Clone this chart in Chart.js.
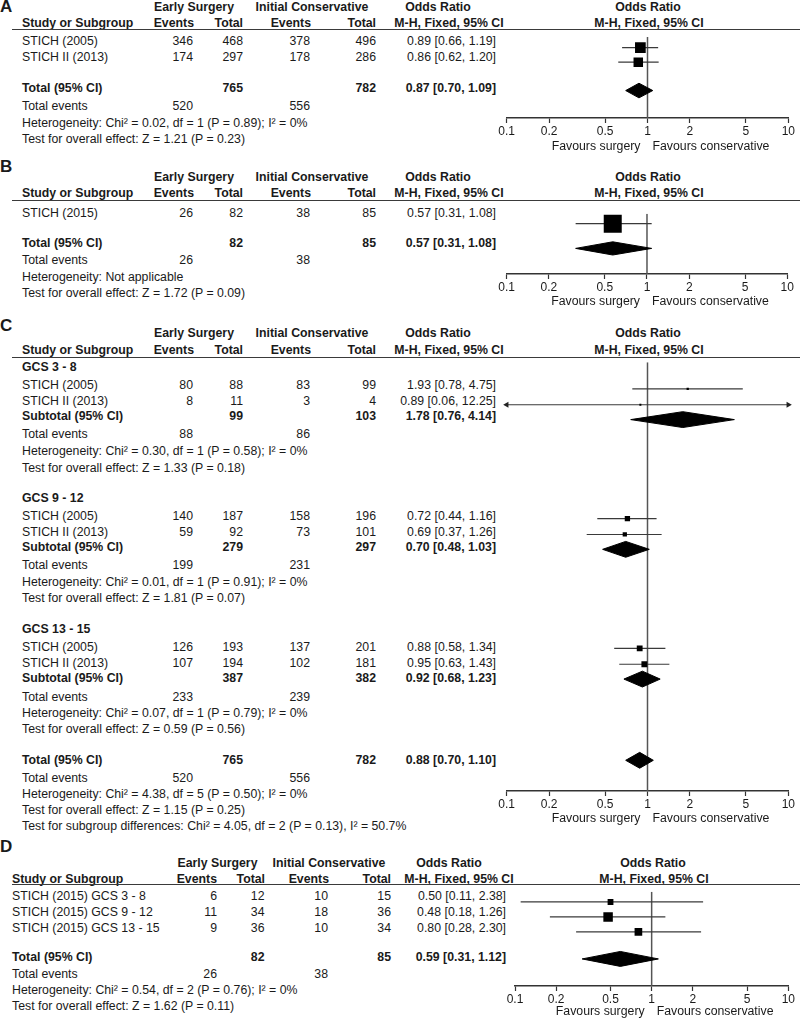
<!DOCTYPE html>
<html>
<head>
<meta charset="utf-8">
<title>Forest plots - early surgery vs initial conservative</title>
<script src="https://cdn.jsdelivr.net/npm/chart.js@4.4.1/dist/chart.umd.min.js"></script>
<style>
    body { margin: 0; background: #ffffff; }
    #page {
        position: relative; width: 800px; height: 1018px; overflow: hidden;
        font-family: "Liberation Sans", Arial, Helvetica, sans-serif;
        font-size: 12.3px; color: #1a1a1a;
    }
    .t { position: absolute; white-space: nowrap; line-height: 14px; }
    .b { font-weight: bold; }
    .rule { position: absolute; height: 0; border-top: 1.5px solid #3a3a3a; }
    canvas { position: absolute; }
</style>
</head>
<body>
<div id="page"></div>
<script>
// Axis ticks shared by every panel
const axisTicks = [0.1, 0.2, 0.5, 1, 2, 5, 10];

// Panel A: STICH trials, all patients
const studiesA = ['STICH (2005)', 'STICH II (2013)'];
const surgEventsA = [346, 174];
const surgTotalA = [468, 297];
const consEventsA = [378, 178];
const consTotalA = [496, 286];
const orA = [0.89, 0.86];
const lowA = [0.66, 0.62];
const highA = [1.19, 1.20];
const weightA = [56, 44];
const totalsA = [765, 782];
const totalEventsA = [520, 556];
const pooledA = [0.87, 0.70, 1.09];
const hetA = 'Heterogeneity: Chi² = 0.02, df = 1 (P = 0.89); I² = 0%';
const effectA = 'Test for overall effect: Z = 1.21 (P = 0.23)';

// Panel B: STICH (2015)
const studiesB = ['STICH (2015)'];
const surgEventsB = [26];
const surgTotalB = [82];
const consEventsB = [38];
const consTotalB = [85];
const orB = [0.57];
const lowB = [0.31];
const highB = [1.08];
const weightB = [100];
const totalsB = [82, 85];
const totalEventsB = [26, 38];
const pooledB = [0.57, 0.31, 1.08];
const hetB = 'Heterogeneity: Not applicable';
const effectB = 'Test for overall effect: Z = 1.72 (P = 0.09)';

// Panel C: by GCS subgroup
const groupsC = ['GCS 3 - 8', 'GCS 9 - 12', 'GCS 13 - 15'];
const studiesC = ['STICH (2005)', 'STICH II (2013)', 'STICH (2005)', 'STICH II (2013)', 'STICH (2005)', 'STICH II (2013)'];
const groupOfC = [0, 0, 1, 1, 2, 2];
const surgEventsC = [80, 8, 140, 59, 126, 107];
const surgTotalC = [88, 11, 187, 92, 193, 194];
const consEventsC = [83, 3, 158, 73, 137, 102];
const consTotalC = [99, 4, 196, 101, 201, 181];
const orC = [1.93, 0.89, 0.72, 0.69, 0.88, 0.95];
const lowC = [0.78, 0.06, 0.44, 0.37, 0.58, 0.63];
const highC = [4.75, 12.25, 1.16, 1.26, 1.34, 1.43];
const weightC = [4.3, 0.7, 23.3, 15.0, 28.0, 28.5];
const subSurgTotalC = [99, 279, 387];
const subConsTotalC = [103, 297, 382];
const subSurgEventsC = [88, 199, 233];
const subConsEventsC = [86, 231, 239];
const subOrC = [1.78, 0.70, 0.92];
const subLowC = [0.76, 0.48, 0.68];
const subHighC = [4.14, 1.03, 1.23];
const subHetC = [
    'Heterogeneity: Chi² = 0.30, df = 1 (P = 0.58); I² = 0%',
    'Heterogeneity: Chi² = 0.01, df = 1 (P = 0.91); I² = 0%',
    'Heterogeneity: Chi² = 0.07, df = 1 (P = 0.79); I² = 0%'
];
const subEffectC = [
    'Test for overall effect: Z = 1.33 (P = 0.18)',
    'Test for overall effect: Z = 1.81 (P = 0.07)',
    'Test for overall effect: Z = 0.59 (P = 0.56)'
];
const totalsC = [765, 782];
const totalEventsC = [520, 556];
const pooledC = [0.88, 0.70, 1.10];
const hetC = 'Heterogeneity: Chi² = 4.38, df = 5 (P = 0.50); I² = 0%';
const effectC = 'Test for overall effect: Z = 1.15 (P = 0.25)';
const subgroupDiffC = 'Test for subgroup differences: Chi² = 4.05, df = 2 (P = 0.13), I² = 50.7%';

// Panel D: STICH (2015) by GCS subgroup
const studiesD = ['STICH (2015) GCS 3 - 8', 'STICH (2015) GCS 9 - 12', 'STICH (2015) GCS 13 - 15'];
const surgEventsD = [6, 11, 9];
const surgTotalD = [12, 34, 36];
const consEventsD = [10, 18, 10];
const consTotalD = [15, 36, 34];
const orD = [0.50, 0.48, 0.80];
const lowD = [0.11, 0.18, 0.28];
const highD = [2.38, 1.26, 2.30];
const weightD = [18.5, 49.3, 32.2];
const totalsD = [82, 85];
const totalEventsD = [26, 38];
const pooledD = [0.59, 0.31, 1.12];
const hetD = 'Heterogeneity: Chi² = 0.54, df = 2 (P = 0.76); I² = 0%';
const effectD = 'Test for overall effect: Z = 1.62 (P = 0.11)';

// ---- layout (page pixels) ----
const colsABC = {
    name: 22, ev1: 193, tot1: 243, ev2: 310, tot2: 376, orText: 496,
    grp1: 194, grp2: 312, hEv1: 194, hTot1: 243, hEv2: 311, hTot2: 376,
    orHead1: 438, orHead2: 449, plotHead: 648, x01: 506.7, x10: 788.3
};
const colsD = {
    name: 12, ev1: 217, tot1: 264.5, ev2: 328, tot2: 391, orText: 506,
    grp1: 217.5, grp2: 329, hEv1: 217, hTot1: 265, hEv2: 329, hTot2: 391,
    orHead1: 449, orHead2: 459, plotHead: 653, x01: 515, x10: 788.3
};
const layoutA = { letterY: 7, head1: 6.5, head2: 23, rule: 29.5, rows: [41, 57], total: 88, stats: [106, 122.5, 138.5], axis: 118, favY: 145.5 };
const layoutB = { letterY: 167, head1: 177, head2: 193, rule: 201, rows: [213], total: 243, stats: [260, 277, 293], axis: 274, favY: 300.5 };
const layoutC = {
    letterY: 326, head1: 333, head2: 350, rule: 358,
    groups: [
        { head: 367, rows: [385, 401], sub: 416, stats: [434, 451, 468] },
        { head: 498, rows: [516, 532], sub: 547, stats: [565, 582, 598] },
        { head: 629, rows: [647, 663], sub: 678, stats: [697, 713, 729] }
    ],
    total: 760, stats: [778, 794, 810, 826], axis: 791, favY: 818
};
const layoutD = { letterY: 847, head1: 863, head2: 879, rule: 885, rows: [896, 912, 928], total: 957, stats: [974, 990, 1006], axis: 986, favY: 1011 };

const FONT = '"Liberation Sans", Arial, Helvetica, sans-serif';
const page = document.getElementById('page');

// Put one text label on the page
function put(text, x, y, align, bold, size) {
    const d = document.createElement('div');
    d.className = 't' + (bold ? ' b' : '');
    d.textContent = text;
    if (size) d.style.fontSize = size + 'px';
    d.style.top = (y - 7) + 'px';
    if (align === 'right') {
        d.style.left = (x - 400) + 'px'; d.style.width = '400px'; d.style.textAlign = 'right';
    } else if (align === 'center') {
        d.style.left = (x - 200) + 'px'; d.style.width = '400px'; d.style.textAlign = 'center';
    } else {
        d.style.left = x + 'px';
    }
    page.appendChild(d);
}

function rule(y) {
    const d = document.createElement('div');
    d.className = 'rule';
    d.style.left = '12px';
    d.style.width = '788px';
    d.style.top = (y - 0.75) + 'px';
    page.appendChild(d);
}

function fmtOr(or, lo, hi) {
    return `${or.toFixed(2)} [${lo.toFixed(2)}, ${hi.toFixed(2)}]`;
}

function header(letter, L, c) {
    put(letter, 0, L.letterY, 'left', true, 17);
    put('Early Surgery', c.grp1, L.head1, 'center', true);
    put('Initial Conservative', c.grp2, L.head1, 'center', true);
    put('Odds Ratio', c.orHead1, L.head1, 'center', true);
    put('Odds Ratio', c.plotHead, L.head1, 'center', true);
    put('Study or Subgroup', c.name, L.head2, 'left', true);
    put('Events', c.hEv1, L.head2, 'right', true);
    put('Total', c.hTot1, L.head2, 'right', true);
    put('Events', c.hEv2, L.head2, 'right', true);
    put('Total', c.hTot2, L.head2, 'right', true);
    put('M-H, Fixed, 95% CI', c.orHead2, L.head2, 'center', true);
    put('M-H, Fixed, 95% CI', c.plotHead + 1, L.head2, 'center', true);
    rule(L.rule);
}

function studyRow(c, y, name, e1, t1, e2, t2, orTxt, bold) {
    put(name, c.name, y, 'left', bold);
    if (e1 !== null) put(String(e1), c.ev1, y, 'right', bold);
    if (t1 !== null) put(String(t1), c.tot1, y, 'right', bold);
    if (e2 !== null) put(String(e2), c.ev2, y, 'right', bold);
    if (t2 !== null) put(String(t2), c.tot2, y, 'right', bold);
    put(orTxt, c.orText, y, 'right', bold);
}

function statsRows(c, ys, events, het, effect) {
    put('Total events', c.name, ys[0]);
    put(String(events[0]), c.ev1, ys[0], 'right');
    put(String(events[1]), c.ev2, ys[0], 'right');
    put(het, c.name, ys[1]);
    put(effect, c.name, ys[2]);
}

// Build one forest plot chart: squares, CI whiskers, diamonds, null line, log axis
function forest(L, c, marks, diamonds, boxScale) {
    const top = Math.floor(L.rule);
    const left = Math.floor(c.x01 - 18);
    const width = 800 - left;
    const axisH = 5 + 2 * 1 + 12 * 1.2;
    const height = Math.ceil(L.axis - top + axisH);
    const canvas = document.createElement('canvas');
    canvas.width = width;
    canvas.height = height;
    canvas.style.left = left + 'px';
    canvas.style.top = top + 'px';
    canvas.style.width = width + 'px';
    canvas.style.height = height + 'px';
    page.appendChild(canvas);

    const minX = axisTicks[0];
    const maxX = axisTicks[axisTicks.length - 1];
    const datasets = [];

    // study squares, size from weight
    datasets.push({
        data: marks.map(m => ({ x: m.or, y: m.y })),
        pointStyle: 'rect',
        pointRadius: marks.map(m => Math.max(boxScale * Math.sqrt(m.w), 2) / Math.SQRT2),
        pointBackgroundColor: '#000000',
        pointBorderWidth: 0,
        showLine: false
    });

    // arrow heads where a CI runs off the axis
    const arrows = [];
    marks.forEach(m => {
        if (m.lo < minX) arrows.push({ x: minX, y: m.y, rot: 270 });
        if (m.hi > maxX) arrows.push({ x: maxX, y: m.y, rot: 90 });
    });
    if (arrows.length) {
        datasets.push({
            data: arrows.map(a => ({ x: a.x, y: a.y })),
            pointStyle: 'triangle',
            pointRotation: arrows.map(a => a.rot),
            pointRadius: 3.5,
            pointBackgroundColor: '#222222',
            pointBorderWidth: 0,
            showLine: false,
            clip: false
        });
    }

    // pooled diamonds
    diamonds.forEach(d => {
        datasets.push({
            data: [
                { x: d.lo, y: d.y }, { x: d.or, y: d.y - 8 },
                { x: d.hi, y: d.y }, { x: d.or, y: d.y + 8 }, { x: d.lo, y: d.y }
            ],
            showLine: true,
            fill: 'shape',
            backgroundColor: '#000000',
            borderColor: '#000000',
            borderWidth: 1,
            pointRadius: 0,
            tension: 0
        });
    });

    // confidence interval whiskers
    marks.forEach(m => {
        datasets.push({
            data: [{ x: m.lo, y: m.y }, { x: m.hi, y: m.y }],
            showLine: true,
            borderColor: '#3a3a3a',
            borderWidth: 1.2,
            pointRadius: 0
        });
    });

    // line of no effect
    datasets.push({
        data: [{ x: 1, y: L.rule }, { x: 1, y: L.axis }],
        showLine: true,
        borderColor: '#555555',
        borderWidth: 1.5,
        pointRadius: 0
    });

    const cfg = {
        type: 'scatter',
        data: { datasets },
        options: {
            responsive: false,
            maintainAspectRatio: false,
            animation: false,
            events: [],
            layout: { padding: { left: c.x01 - left, right: 800 - c.x10, top: 0, bottom: height - (L.axis - top) - axisH } },
            plugins: { legend: { display: false }, tooltip: { enabled: false } },
            scales: {
                x: {
                    type: 'logarithmic',
                    position: 'bottom',
                    min: minX,
                    max: maxX,
                    afterBuildTicks: scale => { scale.ticks = axisTicks.map(v => ({ value: v })); },
                    ticks: {
                        autoSkip: false, maxRotation: 0, padding: 1,
                        color: '#1a1a1a',
                        font: { family: FONT, size: 12 },
                        callback: v => String(v)
                    },
                    grid: { drawOnChartArea: false, drawTicks: true, tickLength: 5, tickColor: '#333333', tickWidth: 1.2 },
                    border: { display: true, color: '#333333', width: 1.5 }
                },
                y: { type: 'linear', display: false, reverse: true, min: top, max: L.axis }
            }
        }
    };
    const chart = new Chart(canvas, cfg);

    // keep the axis line exactly on its row
    const off = (L.axis - top) - chart.chartArea.bottom;
    if (Math.abs(off) > 0.3) {
        chart.config.options.layout.padding.bottom -= off;
        chart.update();
    }

    const x1 = left + chart.scales.x.getPixelForValue(1);
    put('Favours surgery', x1 - 7, L.favY, 'right');
    put('Favours conservative', x1 + 5, L.favY, 'left');
    return chart;
}

// ---- Panel A ----
header('A', layoutA, colsABC);
studiesA.forEach((s, i) => studyRow(colsABC, layoutA.rows[i], s, surgEventsA[i], surgTotalA[i], consEventsA[i], consTotalA[i], fmtOr(orA[i], lowA[i], highA[i]), false));
studyRow(colsABC, layoutA.total, 'Total (95% CI)', null, totalsA[0], null, totalsA[1], fmtOr(pooledA[0], pooledA[1], pooledA[2]), true);
statsRows(colsABC, layoutA.stats, totalEventsA, hetA, effectA);
forest(layoutA, colsABC,
    studiesA.map((s, i) => ({ or: orA[i], lo: lowA[i], hi: highA[i], w: weightA[i], y: layoutA.rows[i] })),
    [{ or: pooledA[0], lo: pooledA[1], hi: pooledA[2], y: layoutA.total }], 1.43);

// ---- Panel B ----
header('B', layoutB, colsABC);
studiesB.forEach((s, i) => studyRow(colsABC, layoutB.rows[i], s, surgEventsB[i], surgTotalB[i], consEventsB[i], consTotalB[i], fmtOr(orB[i], lowB[i], highB[i]), false));
studyRow(colsABC, layoutB.total, 'Total (95% CI)', null, totalsB[0], null, totalsB[1], fmtOr(pooledB[0], pooledB[1], pooledB[2]), true);
statsRows(colsABC, layoutB.stats, totalEventsB, hetB, effectB);
forest(layoutB, colsABC,
    studiesB.map((s, i) => ({ or: orB[i], lo: lowB[i], hi: highB[i], w: weightB[i], y: layoutB.rows[i] })),
    [{ or: pooledB[0], lo: pooledB[1], hi: pooledB[2], y: layoutB.total }], 1.8);

// ---- Panel C ----
header('C', layoutC, colsABC);
const marksC = [];
const seenC = [0, 0, 0];
studiesC.forEach((s, i) => {
    const g = groupOfC[i];
    const y = layoutC.groups[g].rows[seenC[g]++];
    studyRow(colsABC, y, s, surgEventsC[i], surgTotalC[i], consEventsC[i], consTotalC[i], fmtOr(orC[i], lowC[i], highC[i]), false);
    marksC.push({ or: orC[i], lo: lowC[i], hi: highC[i], w: weightC[i], y });
});
const diamondsC = [];
groupsC.forEach((name, g) => {
    const G = layoutC.groups[g];
    put(name, colsABC.name, G.head, 'left', true);
    studyRow(colsABC, G.sub, 'Subtotal (95% CI)', null, subSurgTotalC[g], null, subConsTotalC[g], fmtOr(subOrC[g], subLowC[g], subHighC[g]), true);
    statsRows(colsABC, G.stats, [subSurgEventsC[g], subConsEventsC[g]], subHetC[g], subEffectC[g]);
    diamondsC.push({ or: subOrC[g], lo: subLowC[g], hi: subHighC[g], y: G.sub });
});
studyRow(colsABC, layoutC.total, 'Total (95% CI)', null, totalsC[0], null, totalsC[1], fmtOr(pooledC[0], pooledC[1], pooledC[2]), true);
statsRows(colsABC, layoutC.stats, totalEventsC, hetC, effectC);
put(subgroupDiffC, colsABC.name, layoutC.stats[3]);
diamondsC.push({ or: pooledC[0], lo: pooledC[1], hi: pooledC[2], y: layoutC.total });
forest(layoutC, colsABC, marksC, diamondsC, 1.1);

// ---- Panel D ----
header('D', layoutD, colsD);
studiesD.forEach((s, i) => studyRow(colsD, layoutD.rows[i], s, surgEventsD[i], surgTotalD[i], consEventsD[i], consTotalD[i], fmtOr(orD[i], lowD[i], highD[i]), false));
studyRow(colsD, layoutD.total, 'Total (95% CI)', null, totalsD[0], null, totalsD[1], fmtOr(pooledD[0], pooledD[1], pooledD[2]), true);
statsRows(colsD, layoutD.stats, totalEventsD, hetD, effectD);
forest(layoutD, colsD,
    studiesD.map((s, i) => ({ or: orD[i], lo: lowD[i], hi: highD[i], w: weightD[i], y: layoutD.rows[i] })),
    [{ or: pooledD[0], lo: pooledD[1], hi: pooledD[2], y: layoutD.total }], 1.35);
</script>
</body>
</html>
